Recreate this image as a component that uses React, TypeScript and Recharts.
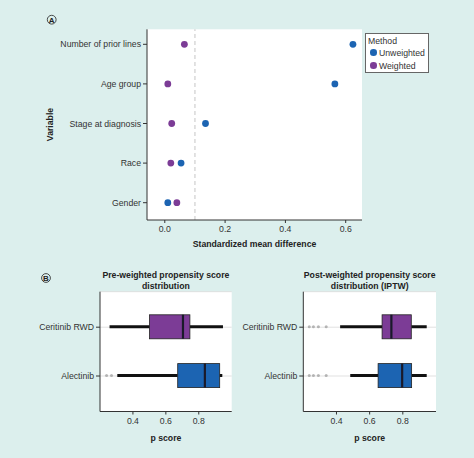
import React from 'react';
import {
  ScatterChart, Scatter, XAxis, YAxis, ReferenceLine, CartesianGrid, Legend,
  BarChart, Bar,
} from 'recharts';

// ---------- Panel A data ----------
const variables = ['Gender', 'Race', 'Stage at diagnosis', 'Age group', 'Number of prior lines'];
const unweightedSMD = [0.01, 0.054, 0.135, 0.564, 0.624];
const weightedSMD = [0.04, 0.02, 0.023, 0.01, 0.065];
const smdTicks = [0, 0.2, 0.4, 0.6];
const smdThreshold = 0.1;

// ---------- Panel B data ----------
const groups = ['Ceritinib RWD', 'Alectinib'];
const preLow = [0.258, 0.305];
const preQ1 = [0.501, 0.672];
const preMedian = [0.704, 0.837];
const preQ3 = [0.746, 0.927];
const preHigh = [0.947, 0.943];
const preOutliers = [[], [0.24, 0.27]];

const postLow = [0.422, 0.483];
const postQ1 = [0.675, 0.651];
const postMedian = [0.731, 0.796];
const postQ3 = [0.851, 0.853];
const postHigh = [0.944, 0.944];
const postOutliers = [[0.236, 0.261, 0.291, 0.338], [0.236, 0.261, 0.291, 0.338]];
const pTicks = [0.4, 0.6, 0.8];

const BLUE = '#1c64b2';
const PURPLE = '#7c3c96';
const BG = '#dcefed';
const FONT = '"Liberation Sans", Arial, sans-serif';
const FS = 8.7;
const AXIS = '#333333';

const unweightedData = variables.map((v, i) => ({ x: unweightedSMD[i], y: i + 1, name: v }));
const weightedData = variables.map((v, i) => ({ x: weightedSMD[i], y: i + 1, name: v }));

const buildBox = (lo: number[], q1: number[], md: number[], q3: number[], hi: number[], out: number[][]) =>
  groups.map((g, i) => ({ group: g, low: lo[i], q1: q1[i], median: md[i], q3: q3[i], high: hi[i], outliers: out[i] }));

const preData = buildBox(preLow, preQ1, preMedian, preQ3, preHigh, preOutliers);
const postData = buildBox(postLow, postQ1, postMedian, postQ3, postHigh, postOutliers);

const boxColor: Record<string, string> = { 'Ceritinib RWD': PURPLE, 'Alectinib': BLUE };

const BoxShape = (props: any) => {
  const { x, y, width, height, payload } = props;
  const lo = payload.low;
  const hi = payload.high;
  const px = (v: number) => x + ((v - lo) / (hi - lo)) * width;
  const cy = y + height / 2;
  return (
    <g>
      {payload.outliers.map((v: number, i: number) => (
        <circle key={i} cx={px(v)} cy={cy} r={1.5} fill="#8a8a8a" fillOpacity={0.6} />
      ))}
      <line x1={px(lo)} x2={px(payload.q1)} y1={cy} y2={cy} stroke="#111" strokeWidth={3} />
      <line x1={px(payload.q3)} x2={px(hi)} y1={cy} y2={cy} stroke="#111" strokeWidth={3} />
      <rect x={px(payload.q1)} y={y} width={px(payload.q3) - px(payload.q1)} height={height}
        fill={boxColor[payload.group]} stroke="#222" strokeWidth={0.8} />
      <line x1={px(payload.median)} x2={px(payload.median)} y1={y} y2={y + height} stroke="#1a1a2a" strokeWidth={2.2} />
    </g>
  );
};

const YTick = (fmt?: (v: any) => string) => (props: any) => {
  const { x, y, payload } = props;
  const label = fmt ? fmt(payload.value) : String(payload.value);
  return (
    <text x={x} y={y} textAnchor="end" dominantBaseline="central" fontSize={FS} fill={AXIS} fontFamily={FONT}>{label}</text>
  );
};

const XTick = (props: any) => {
  const { x, y, payload } = props;
  return (
    <text x={x} y={y} textAnchor="middle" dominantBaseline="hanging" fontSize={FS} fill={AXIS} fontFamily={FONT}>{Number(payload.value).toFixed(1)}</text>
  );
};

const LegendBox = () => (
  <div style={{ position: 'relative', width: 64, height: 40, boxSizing: 'border-box', border: '1px solid #666', background: '#fff', fontFamily: FONT, fontSize: FS, color: '#333', lineHeight: 1 }}>
    <span style={{ position: 'absolute', left: 2, top: 3 }}>Method</span>
    <span style={{ position: 'absolute', left: 4, top: 15, width: 6.6, height: 6.6, borderRadius: '50%', background: BLUE }} />
    <span style={{ position: 'absolute', left: 13, top: 15 }}>Unweighted</span>
    <span style={{ position: 'absolute', left: 4, top: 28, width: 6.6, height: 6.6, borderRadius: '50%', background: PURPLE }} />
    <span style={{ position: 'absolute', left: 13, top: 28 }}>Weighted</span>
  </div>
);

const BoxPanel = ({ data, left, width, yAxisWidth, marginLeft, marginRight }: any) => (
  <div style={{ position: 'absolute', left, top: 250 }}>
    <BarChart width={width} height={200} data={data} layout="vertical"
      margin={{ top: 41.7, right: marginRight, left: marginLeft, bottom: 8.5 }}>
      <CartesianGrid horizontal={true} vertical={false} fill="#ffffff" stroke="#d9d9d9" strokeWidth={0.8} />
      <XAxis type="number" domain={[0.2, 1.0]} ticks={pTicks} allowDataOverflow height={30}
        tick={XTick} axisLine={{ stroke: AXIS }} tickLine={{ stroke: AXIS }} tickSize={3} tickMargin={3} />
      <YAxis type="category" dataKey="group" width={yAxisWidth} padding={{ top: 11.1, bottom: 11.1 }}
        tick={YTick()} axisLine={{ stroke: AXIS }} tickLine={{ stroke: AXIS }} tickSize={4} tickMargin={2} />
      <Bar dataKey={(d: any) => [d.low, d.high]} barSize={24} shape={BoxShape} isAnimationActive={false} />
    </BarChart>
  </div>
);

export default function App() {
  return (
    <div style={{ position: 'absolute', left: 0, top: 0, width: 474, height: 458, background: BG, overflow: 'hidden', fontFamily: FONT }}>
      <div style={{ position: 'absolute', left: 0, top: 0 }}>
        <ScatterChart width={474} height={260} margin={{ top: 29.3, right: 112, left: 47, bottom: 10 }}>
          <CartesianGrid horizontal={false} vertical={false} fill="#ffffff" />
          <XAxis type="number" dataKey="x" domain={[-0.059, 0.654]} ticks={smdTicks} allowDataOverflow height={30}
            tick={XTick} axisLine={{ stroke: AXIS }} tickLine={{ stroke: AXIS }} tickSize={3} tickMargin={3} />
          <YAxis type="number" dataKey="y" domain={[0.563, 5.379]} ticks={[1, 2, 3, 4, 5]} allowDataOverflow width={100}
            tick={YTick((v: number) => variables[v - 1])}
            axisLine={{ stroke: AXIS }} tickLine={{ stroke: AXIS }} tickSize={4} tickMargin={2} />
          <ReferenceLine x={smdThreshold} stroke="#cfcfcf" strokeDasharray="4 3" strokeWidth={1.2} />
          <Scatter name="Unweighted" data={unweightedData} fill={BLUE} isAnimationActive={false}
            shape={(p: any) => <circle cx={p.cx} cy={p.cy} r={3.4} fill={BLUE} />} />
          <Scatter name="Weighted" data={weightedData} fill={PURPLE} isAnimationActive={false}
            shape={(p: any) => <circle cx={p.cx} cy={p.cy} r={3.4} fill={PURPLE} />} />
          <Legend layout="vertical" align="center" verticalAlign="middle" content={() => <LegendBox />}
            wrapperStyle={{ position: 'absolute', left: 365, top: 33, width: 64, height: 40 }} />
        </ScatterChart>
      </div>

      <BoxPanel data={preData} left={0} width={240} yAxisWidth={80} marginLeft={20} marginRight={8.3} />
      <BoxPanel data={postData} left={240} width={234} yAxisWidth={60} marginLeft={3.3} marginRight={38} />

      <svg width={474} height={458} style={{ position: 'absolute', left: 0, top: 0, pointerEvents: 'none' }}>
        <g fontFamily={FONT} fill="#222">
          <circle cx={51.7} cy={19.7} r={4.4} fill="none" stroke="#222" strokeWidth={0.8} />
          <text x={51.7} y={22.6} fontSize={8} fontWeight="bold" textAnchor="middle">A</text>
          <circle cx={46} cy={278} r={4.4} fill="none" stroke="#222" strokeWidth={0.8} />
          <text x={46} y={280.9} fontSize={8} fontWeight="bold" textAnchor="middle">B</text>

          <text x={50} y={124.5} fontSize={FS} fontWeight="bold" textAnchor="middle" dominantBaseline="central"
            transform="rotate(-90 50 124.5)">Variable</text>
          <text x={254.5} y={244} fontSize={FS} fontWeight="bold" textAnchor="middle" dominantBaseline="central">Standardized mean difference</text>

          <text x={165.9} y={275} fontSize={FS} fontWeight="bold" textAnchor="middle" dominantBaseline="central">Pre-weighted propensity score</text>
          <text x={165.9} y={285.5} fontSize={FS} fontWeight="bold" textAnchor="middle" dominantBaseline="central">distribution</text>
          <text x={369.7} y={275} fontSize={FS} fontWeight="bold" textAnchor="middle" dominantBaseline="central">Post-weighted propensity score</text>
          <text x={369.7} y={285.5} fontSize={FS} fontWeight="bold" textAnchor="middle" dominantBaseline="central">distribution (IPTW)</text>

          <text x={165.9} y={438} fontSize={FS} fontWeight="bold" textAnchor="middle" dominantBaseline="central">p score</text>
          <text x={369.7} y={438} fontSize={FS} fontWeight="bold" textAnchor="middle" dominantBaseline="central">p score</text>
        </g>
      </svg>
    </div>
  );
}
